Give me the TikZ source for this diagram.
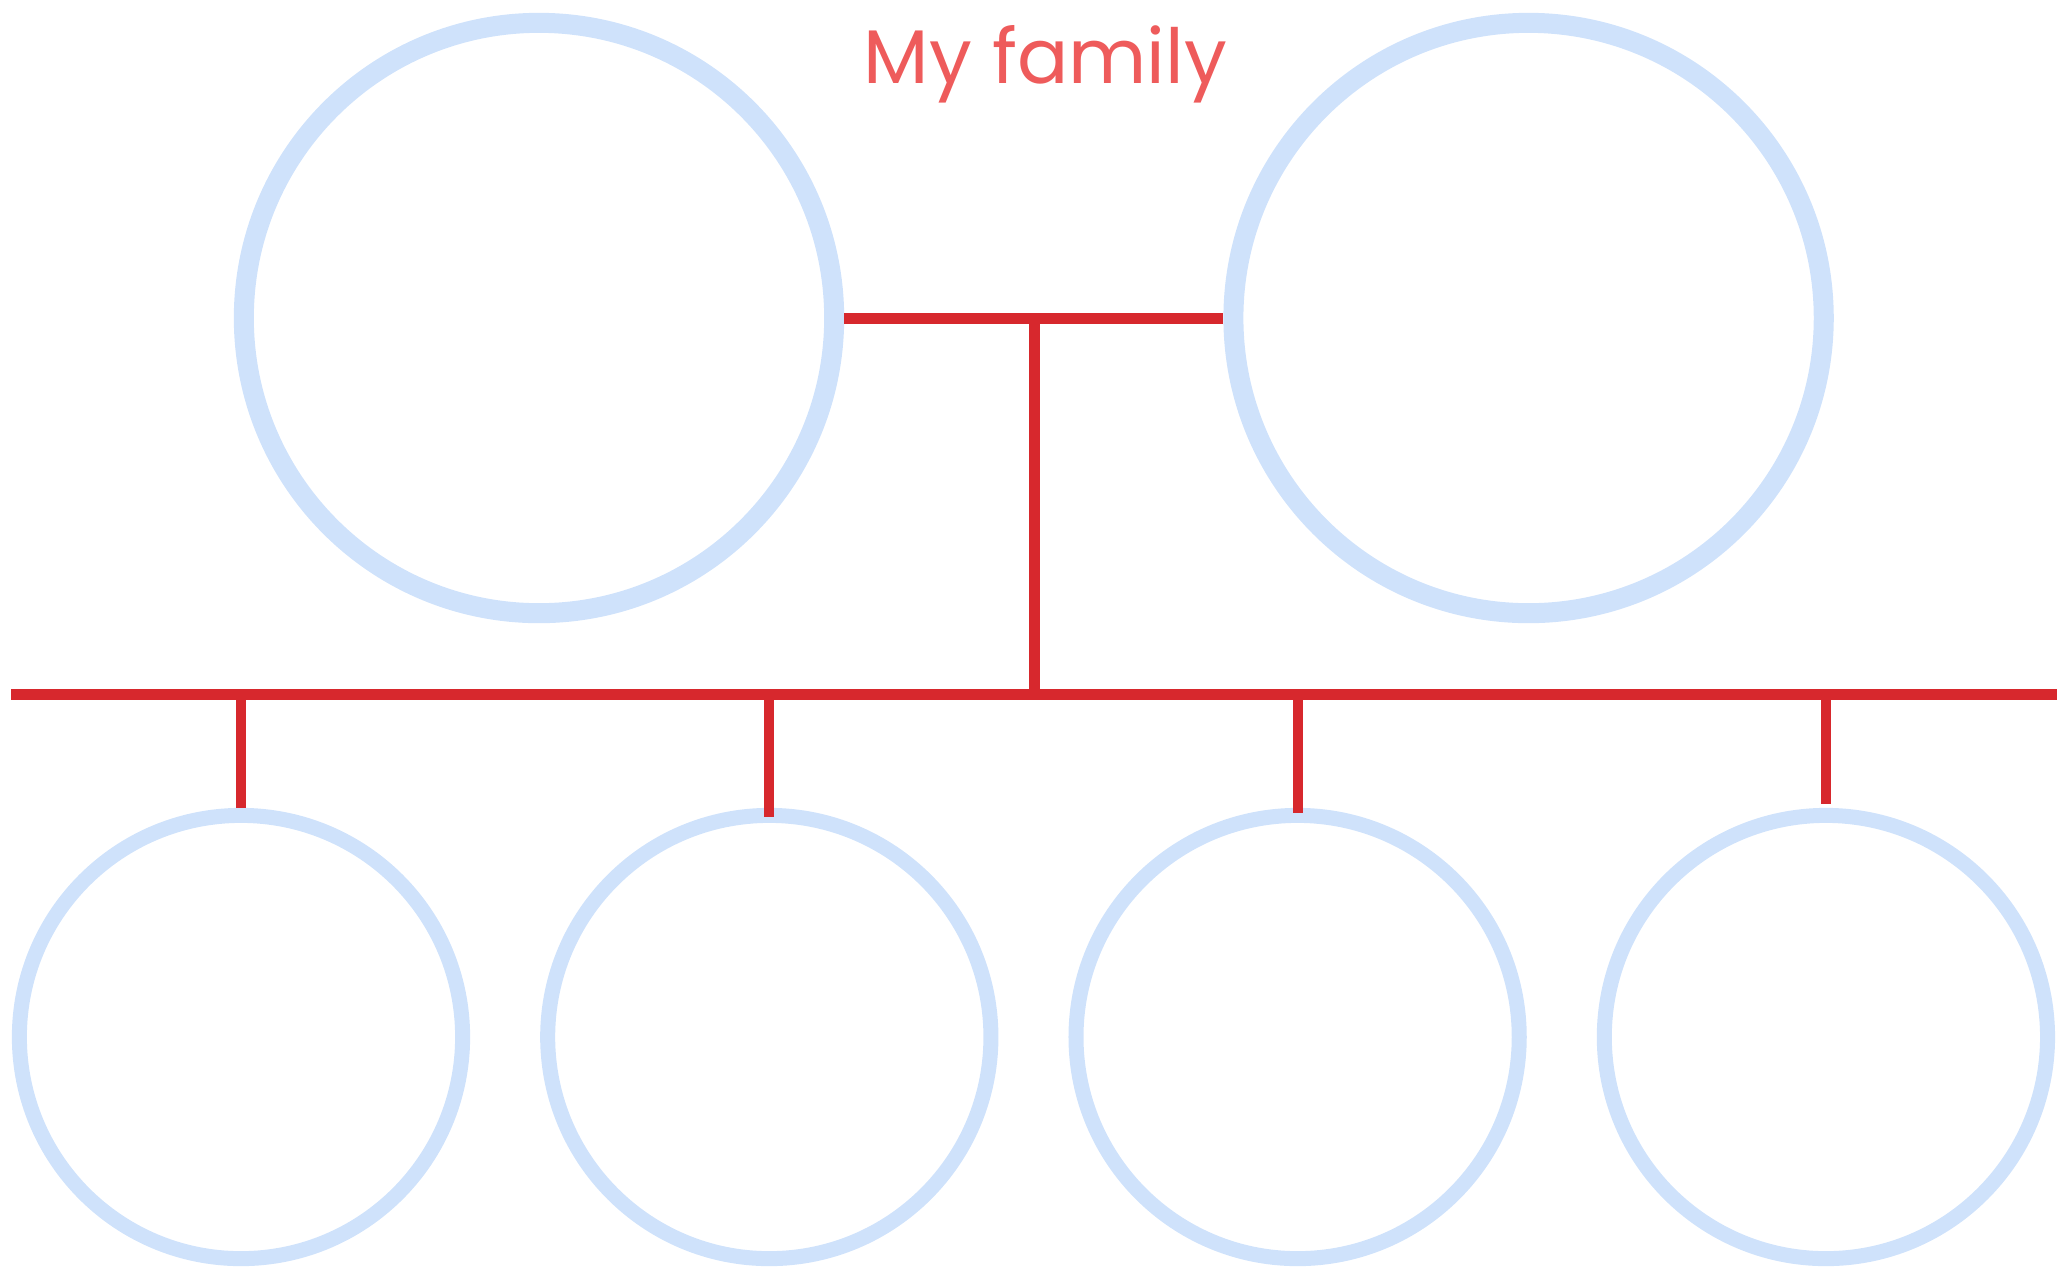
\documentclass[tikz,border=0pt]{standalone}
\usepackage{fontspec}
\newfontfamily\titlefont{Poppins}
\usetikzlibrary{positioning}
\definecolor{ringblue}{HTML}{CFE2FB}
\definecolor{linered}{HTML}{D7282D}
\definecolor{titlered}{HTML}{EE5B5B}
\tikzset{
  parentring/.style={circle, draw=ringblue, line width=0.2cm, minimum size=5.9cm, inner sep=0pt},
  childring/.style={circle, draw=ringblue, line width=0.15cm, minimum size=4.43cm, inner sep=0pt},
  treeline/.style={draw=linered, line width=0.11cm},
  dropline/.style={draw=linered, line width=0.10cm}
}

\begin{document}
\begin{tikzpicture}[x=0.01cm, y=-0.01cm]
\useasboundingbox (0,0) rectangle (2067,1272);
% parents
\node [parentring] (mom) at (539,318) {};
\node [parentring, right=3.79cm of mom] (dad) {};
\node [font=\titlefont\fontsize{21.6}{24}\selectfont, text=titlered, anchor=base west, inner sep=0pt] (title) at (863,83) {My family};
% children
\node [childring] (kid1) at (241,1037) {};
\node [childring, right=0.7cm of kid1] (kid2) {};
\node [childring, right=0.7cm of kid2] (kid3) {};
\node [childring, right=0.7cm of kid3] (kid4) {};
\coordinate (join) at (1034,319);
\coordinate (barL) at (11,694.5);
\coordinate (barR) at (2057,694.5);
\draw [treeline] (mom.east) -- (dad.west);
\draw [treeline] (join) -- (join |- barL);
\draw [treeline] (barL) -- (barR);
\draw [dropline] (kid1 |- barL) -- (kid1.north);
\draw [dropline] (kid2 |- barL) -- ([yshift=-0.09cm]kid2.north);
\draw [dropline] (kid3 |- barL) -- ([yshift=-0.05cm]kid3.north);
\draw [dropline] (kid4 |- barL) -- ([yshift=0.04cm]kid4.north);
\end{tikzpicture}
\end{document}
